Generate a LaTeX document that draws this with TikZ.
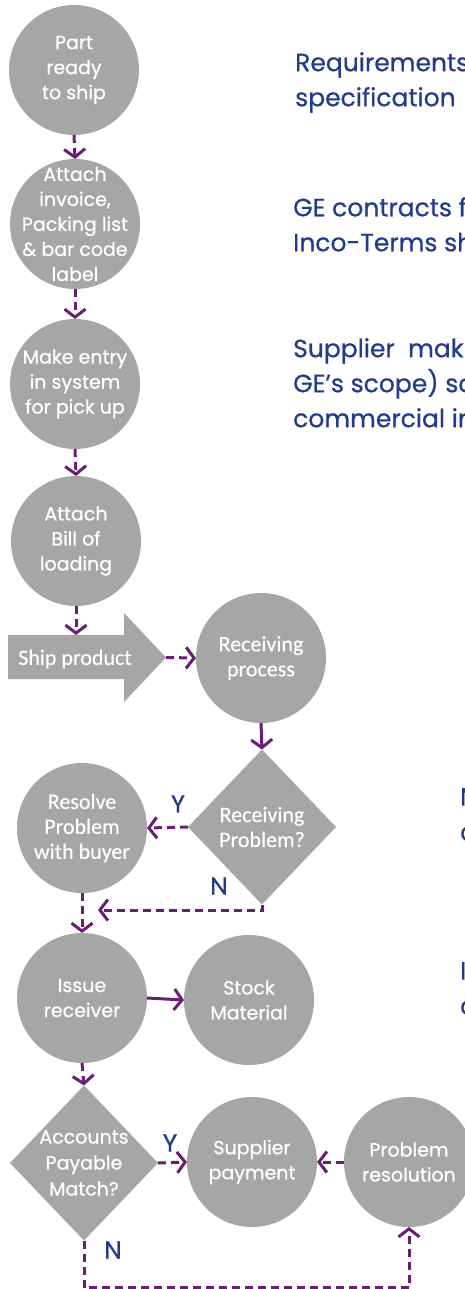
\documentclass[tikz,border=0pt]{standalone}
\usepackage{fontspec}
\setmainfont{Poppins}[FakeBold=0.7]
\newfontfamily\calfont{Carlito}[FakeBold=0.3]
\usetikzlibrary{shapes.geometric,arrows.meta}
\definecolor{boxgray}{RGB}{166,166,166}
\definecolor{flowpurple}{RGB}{108,28,116}
\definecolor{noteblue}{RGB}{34,60,140}
\begin{document}
\begin{tikzpicture}[x=1pt, y=-1pt,
    proc/.style={circle, fill=boxgray, text=white, minimum size=130pt,
      inner sep=-30pt, outer sep=0pt, align=center,
      font=\fontsize{19}{25}\selectfont},
    calproc/.style={proc, font=\calfont\fontsize{22}{25}\selectfont},
    decide/.style={diamond, fill=boxgray, text=white, minimum width=148pt,
      minimum height=155pt, inner sep=-30pt, outer sep=0pt, align=center},
    flow/.style={draw=flowpurple, line width=3pt,
      -{Straight Barb[length=8pt,width=21pt]}},
    dflow/.style={flow, dash pattern=on 8pt off 5pt},
    yn/.style={text=noteblue, inner sep=0pt},
    note/.style={text=noteblue, align=left, anchor=north west, inner sep=0pt,
      font=\fontsize{25}{35}\selectfont}]
  \useasboundingbox (0,0) rectangle (465,1289);
  \clip (0,0) rectangle (465,1289);
  \node[proc] (part) at (74,70) {Part\\ready\\to ship};
  \node[proc] (invoice) at (75,224) {Attach\\invoice,\\Packing list\\\& bar code\\label};
  \node[proc] (entry) at (75,384) {Make entry\\in system\\for pick up};
  \node[proc] (bill) at (76,541) {Attach\\Bill of\\loading};
  \fill[boxgray] (8,635) -- (124,635) -- (124,613) -- (166,657.5)
    -- (124,702) -- (124,679) -- (8,679) -- cycle;
  \node[text=white, font=\calfont\fontsize{22}{25}\selectfont] (ship) at (75,659) {Ship product};
  \coordinate (shiptop) at (76,635);
  \coordinate (shiptip) at (166,657.5);
  \node[calproc] (recv) at (261,658) {Receiving\\process};
  \node[decide, font=\calfont\fontsize{22}{25}\selectfont] (rprob) at (262,827) {Receiving\\Problem?};
  \node[calproc] (resolve) at (82,828) {Resolve\\Problem\\with buyer};
  \coordinate (njoin) at (98,910);
  \node[proc] (issue) at (82,998) {Issue\\receiver};
  \node[proc] (stock) at (249,1000) {Stock\\Material};
  \node[decide, font=\fontsize{19}{26}\selectfont] (apm) at (84,1163) {Accounts\\Payable\\Match?};
  \node[proc] (pay) at (252,1162) {Supplier\\payment};
  \node[proc] (pres) at (409,1162) {Problem\\resolution};

  \draw[dflow] (part.south) -- (invoice.north);
  \draw[dflow] (invoice.south) -- (entry.north);
  \draw[dflow] (entry.south) -- (bill.north);
  \draw[dflow] (bill.south) -- (shiptop);
  \draw[dflow] (shiptip) -- (recv.west);
  \draw[flow] (recv.south) -- (rprob.north);
  \draw[dflow] (rprob.west) -- (resolve.east);
  \draw[dflow] (rprob.south) |- (njoin);
  \draw[dflow] (resolve.south) -- (issue.north);
  \draw[flow] (issue.east) -- (stock.west);
  \draw[dflow] (issue.south) -- (apm.north);
  \draw[dflow] (apm.east) -- (pay.west);
  \draw[dflow] (pres.west) -- (pay.east);
  \draw[dflow] (apm.south) -- ++(0,47) -| (pres.south);

  \node[yn, font=\calfont\fontsize{27}{27}\selectfont] (ytop) at (178,804) {Y};
  \node[yn, font=\calfont\fontsize{27}{27}\selectfont] (ntop) at (219,886) {N};
  \node[yn, font=\fontsize{25}{25}\selectfont] (ybot) at (170,1143) {Y};
  \node[yn, font=\fontsize{25}{25}\selectfont] (nbot) at (113,1250) {N};

  \node[note] (reqs) at (295,52) {Requirements\\specification};
  \node[note] (inco) at (293,197) {GE contracts f\\Inco-Terms sh};
  \node[note] (supp) at (293,338) {Supplier\ \ mak\\GE’s scope) sc\\commercial in};
  \node[note] (nnote) at (460,788) {N\\c};
  \node[note] (inote) at (460,962) {I\\c};
\end{tikzpicture}
\end{document}
